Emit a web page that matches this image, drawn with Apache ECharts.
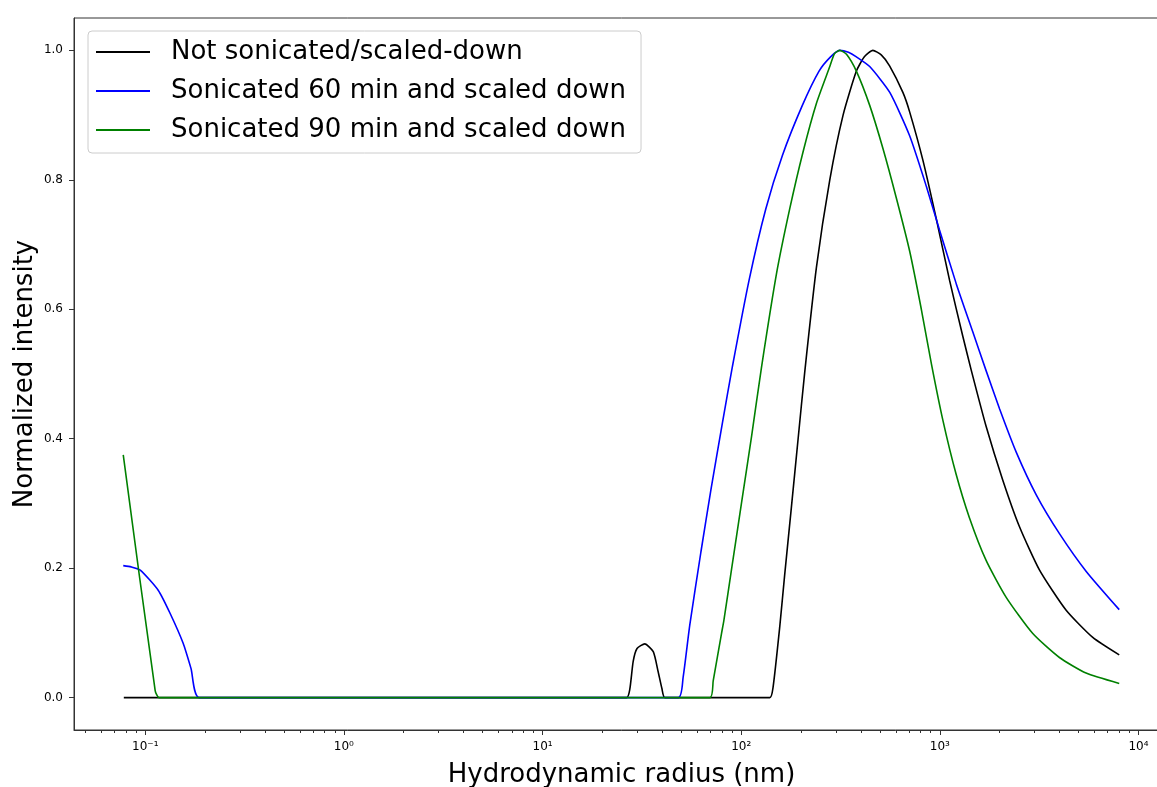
<!DOCTYPE html>
<html><head><meta charset="utf-8">
<script src="https://cdn.jsdelivr.net/npm/echarts@6/dist/echarts.min.js"></script>
<style>html,body{margin:0;padding:0;background:#fff;overflow:hidden}#c{width:1170px;height:787px}</style>
</head><body><div id="c"></div>
<script>
// ---- data ----
const seriesNames = ['Not sonicated/scaled-down', 'Sonicated 60 min and scaled down', 'Sonicated 90 min and scaled down'];
const seriesColors = ['#000000', '#0000ff', '#008000'];

const notSonX = [0.078, 26.5, 27.5, 28.6, 29.9, 32.7, 36.1, 38.2, 39.9, 41.3, 139.3, 144.7, 156.3, 165.6, 179.1, 193.2, 208.9, 239.3, 279.3, 325.8, 380.2, 417, 460.3, 507, 558.5, 651.6, 704.7, 822.2, 959.4, 1119, 1306, 1439, 1714, 2075, 2518, 3177, 4325, 5888, 8000];
const notSonY = [0, 0, 0.013, 0.056, 0.076, 0.083, 0.071, 0.040, 0.014, 0, 0, 0.016, 0.109, 0.190, 0.295, 0.398, 0.503, 0.665, 0.800, 0.900, 0.968, 0.99, 1.0, 0.993, 0.976, 0.935, 0.905, 0.830, 0.740, 0.645, 0.558, 0.506, 0.418, 0.336, 0.264, 0.197, 0.135, 0.093, 0.066];

const son60X = [0.0775, 0.085, 0.0944, 0.1162, 0.1335, 0.1552, 0.170, 0.187, 48.2, 51.0, 55.1, 62.7, 70.5, 80.5, 90.4, 109.6, 133.0, 161.4, 203.2, 246.6, 281.8, 313.3, 346.7, 380.2, 443.6, 559.8, 704.7, 855.1, 995.4, 1208, 1462, 1706, 2000, 2427, 3062, 4009, 5458, 8000];
const son60Y = [0.204, 0.202, 0.197, 0.166, 0.130, 0.084, 0.045, 0, 0, 0.031, 0.112, 0.225, 0.322, 0.425, 0.512, 0.645, 0.755, 0.838, 0.915, 0.968, 0.99, 1.0, 0.997, 0.99, 0.975, 0.935, 0.868, 0.79, 0.723, 0.64, 0.566, 0.506, 0.446, 0.379, 0.313, 0.253, 0.195, 0.136];

const son90X = [0.0775, 0.1122, 0.1175, 69.6, 72.3, 79.6, 81.8, 89.3, 100.3, 112.7, 126.5, 150.6, 175.5, 204.8, 239.1, 279.3, 295, 314, 339, 380, 443.6, 517.6, 604, 704.7, 807, 908, 1037, 1208, 1409, 1710, 2158, 2938, 4000, 5445, 8000];
const son90Y = [0.375, 0.011, 0, 0, 0.026, 0.099, 0.119, 0.197, 0.300, 0.403, 0.51, 0.655, 0.755, 0.843, 0.918, 0.975, 0.995, 1.0, 0.994, 0.968, 0.915, 0.848, 0.772, 0.690, 0.60, 0.515, 0.428, 0.345, 0.278, 0.212, 0.155, 0.099, 0.062, 0.038, 0.022];

const xMajorTicks = [0.1, 1, 10, 100, 1000, 10000];
const xMinorTicks = [0.05, 0.06, 0.07, 0.08, 0.09, 0.2, 0.3, 0.4, 0.5, 0.6, 0.7, 0.8, 0.9, 2, 3, 4, 5, 6, 7, 8, 9, 20, 30, 40, 50, 60, 70, 80, 90, 200, 300, 400, 500, 600, 700, 800, 900, 2000, 3000, 4000, 5000, 6000, 7000, 8000, 9000];
const yTicks = [0, 0.2, 0.4, 0.6, 0.8, 1.0];
const xTitle = 'Hydrodynamic radius (nm)';
const yTitle = 'Normalized intensity';

// ---- chart ----
const zip = (xs, ys) => xs.map((x, i) => [x, ys[i]]);
const seriesData = [zip(notSonX, notSonY), zip(son60X, son60Y), zip(son90X, son90Y)];
const sup = {'-': '\u207b', '0': '\u2070', '1': '\u00b9', '2': '\u00b2', '3': '\u00b3', '4': '\u2074', '5': '\u2075', '6': '\u2076', '7': '\u2077', '8': '\u2078', '9': '\u2079'};
const fmtPow = v => { const e = Math.round(Math.log10(v)); return '10' + String(e).split('').map(c => sup[c]).join(''); };

const xMin = 0.04379, xMax = 14245;
const font = 'DejaVu Sans';
const axisColor = '#333';

const chart = echarts.init(document.getElementById('c'), null, {renderer: 'canvas'});
chart.setOption({
  animation: false,
  backgroundColor: '#fff',
  textStyle: {fontFamily: font},
  grid: {left: 74, top: 18, bottom: 57, right: 1, containLabel: false, outerBoundsMode: 'none', show: true, borderColor: axisColor, borderWidth: 1, backgroundColor: 'transparent'},
  legend: {
    show: true, orient: 'vertical', left: 88, top: 31,
    padding: [6, 15, 8, 8], itemGap: 9, itemWidth: 54, itemHeight: 2, icon: 'rect',
    borderColor: '#cccccc', borderWidth: 1, borderRadius: 4, backgroundColor: 'rgba(255,255,255,0.8)',
    textStyle: {fontFamily: font, fontSize: 26, color: '#000', lineHeight: 30, padding: [0, 0, 0, 16]},
    data: seriesNames
  },
  xAxis: [{
    type: 'log', logBase: 10, min: xMin, max: xMax,
    name: xTitle, nameLocation: 'middle', nameGap: 32, nameMoveOverlap: false,
    nameTextStyle: {fontFamily: font, fontSize: 26, color: '#000'},
    axisLine: {show: true, onZero: false, lineStyle: {color: axisColor, width: 1}},
    axisTick: {show: true, customValues: xMajorTicks, length: 5, lineStyle: {color: axisColor, width: 1}},
    axisLabel: {show: true, customValues: xMajorTicks, formatter: fmtPow, margin: 11, fontFamily: font, fontSize: 12, color: '#000'},
    splitLine: {show: false}, minorTick: {show: false}
  }, {
    type: 'log', logBase: 10, min: xMin, max: xMax, position: 'bottom',
    axisLine: {show: false, onZero: false},
    axisTick: {show: true, customValues: xMinorTicks, length: 3, lineStyle: {color: axisColor, width: 1}},
    axisLabel: {show: false},
    splitLine: {show: false}
  }],
  yAxis: {
    type: 'value', min: -0.05, max: 1.05,
    name: yTitle, nameLocation: 'middle', nameGap: 36, nameRotate: 90, nameMoveOverlap: false,
    nameTextStyle: {fontFamily: font, fontSize: 26, color: '#000'},
    axisLine: {show: true, lineStyle: {color: axisColor, width: 1}},
    axisTick: {show: true, customValues: yTicks, length: 5, lineStyle: {color: axisColor, width: 1}},
    axisLabel: {show: true, customValues: yTicks, formatter: v => v.toFixed(1), margin: 11, fontFamily: font, fontSize: 12, color: '#000'},
    splitLine: {show: false}
  },
  series: seriesNames.map((n, i) => ({
    name: n, type: 'line', xAxisIndex: 0, yAxisIndex: 0,
    data: seriesData[i], symbol: 'none', showSymbol: false, smooth: 0.2,
    lineStyle: {color: seriesColors[i], width: 1.6}, itemStyle: {color: seriesColors[i]},
    emphasis: {disabled: true}
  }))
});
</script>
</body></html>
